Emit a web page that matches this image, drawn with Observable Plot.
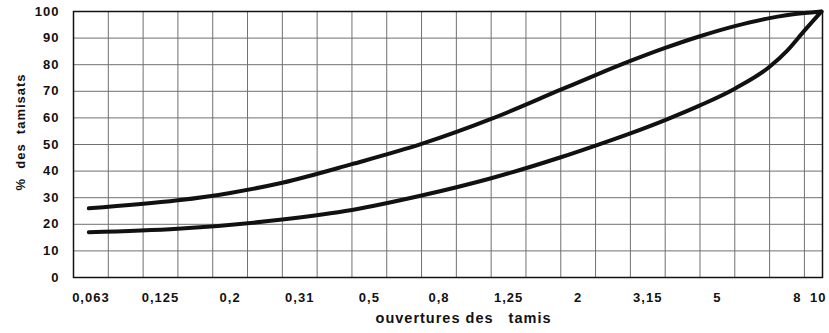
<!DOCTYPE html>
<html><head><meta charset="utf-8">
<script src="https://cdn.jsdelivr.net/npm/d3@7"></script>
<script src="https://cdn.jsdelivr.net/npm/@observablehq/plot@0.6"></script>
<style>
body{margin:0;background:#fff}
#chart svg{display:block}
#chart svg text{letter-spacing:1px}
</style>
</head><body><div id="chart"></div>
<script>
// Sieve openings (mm) as labelled, and their place along the drawn grid (in grid cells)
const sieveLabels = ["0,063","0,125","0,2","0,31","0,5","0,8","1,25","2","3,15","5","8","10"];
const sievePos    = [0.5, 2.5, 4.5, 6.5, 8.5, 10.5, 12.5, 14.5, 16.5, 18.5, 20.8, 21.4];
const gridCells   = 21.52;            // width of the drawn grid, in cells
const yTicks      = [0,10,20,30,40,50,60,70,80,90,100];

// Upper limit of the envelope (% passing)
const upperX = [0.44, 3, 4.5, 6, 8, 10, 12, 14, 15, 16, 17, 18, 19, 20, 21, 21.49];
const upperY = [26.0, 29.0, 31.8, 35.6, 42.6, 50.2, 59.6, 70.6, 76.1, 81.4, 86.3, 90.7, 94.5, 97.5, 99.4, 100];
// Lower limit of the envelope
const lowerX = [0.44, 3, 6, 8, 10, 12, 14, 15, 16, 17, 18, 19, 20, 20.5, 21, 21.49];
const lowerY = [17.0, 18.3, 21.8, 25.4, 30.8, 37.3, 45.2, 49.6, 54.2, 59.2, 64.7, 71.0, 79.2, 85.2, 92.8, 100];

const upper = upperX.map((x, i) => ({x, y: upperY[i]}));
const lower = lowerX.map((x, i) => ({x, y: lowerY[i]}));
const gridX = d3.range(1, Math.floor(gridCells) + 1);

const chart = Plot.plot({
  width: 829,
  height: 333,
  marginTop: 11,
  marginLeft: 73,
  marginRight: 7,
  marginBottom: 56,
  style: {fontFamily: "'Liberation Sans', Arial, sans-serif", fontWeight: "bold", fontSize: "13px", color: "#111", background: "#fff"},
  x: {domain: [0, gridCells], axis: null},
  y: {domain: [0, 100], axis: null},
  marks: [
    Plot.ruleX(gridX, {stroke: "#707070", strokeWidth: 1}),
    Plot.ruleY(yTicks, {stroke: "#707070", strokeWidth: 1}),
    Plot.frame({stroke: "#111", strokeWidth: 1.5}),
    Plot.axisY(yTicks, {tickSize: 0, tickPadding: 14, label: null, fontSize: 13, fontWeight: "bold"}),
    Plot.axisX(sievePos, {tickSize: 0, tickPadding: 15, label: null, fontSize: 13, fontWeight: "bold",
      tickFormat: d => sieveLabels[sievePos.indexOf(d)]}),
    Plot.text(["ouvertures des\u00a0\u00a0 tamis"], {frameAnchor: "bottom", dx: 15.5, dy: 45, fontSize: 14.5, fontWeight: "bold", fill: "#111"}),
    Plot.text(["%\u00a0 des\u00a0 tamisats"], {frameAnchor: "left", textAnchor: "middle", rotate: -90, dx: -53, dy: -12.5, fontSize: 13, fontWeight: "bold", fill: "#111"}),
    Plot.line(upper, {x: "x", y: "y", curve: "monotone-x", stroke: "#111", strokeWidth: 4}),
    Plot.line(lower, {x: "x", y: "y", curve: "monotone-x", stroke: "#111", strokeWidth: 4})
  ]
});
document.getElementById("chart").append(chart);
</script>
</body></html>
